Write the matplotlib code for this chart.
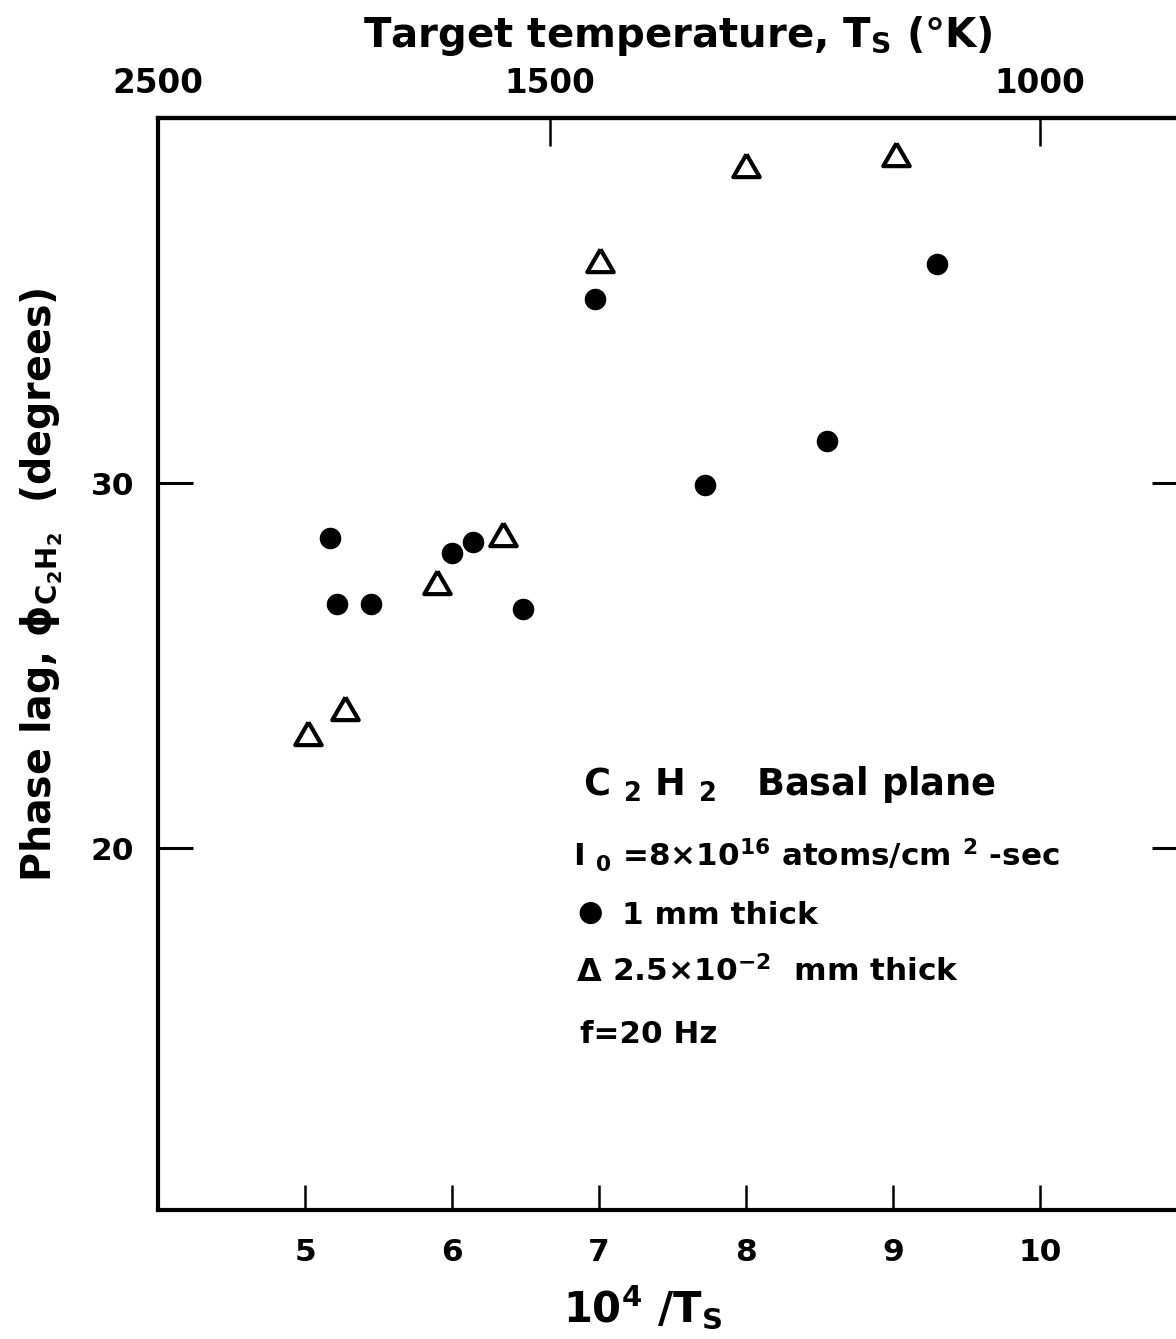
import matplotlib
matplotlib.use("Agg")
import matplotlib.pyplot as plt
import numpy as np

# ---- data ----
x_thick = [5.17, 5.22, 5.45, 6.00, 6.14, 6.48, 6.97, 7.72, 8.55, 9.30]
y_thick = [28.5, 26.7, 26.7, 28.1, 28.4, 26.55, 35.05, 29.95, 31.15, 36.0]
x_thin = [5.02, 5.27, 5.90, 6.35, 7.01, 8.00, 9.02]
y_thin = [23.1, 23.8, 27.25, 28.55, 36.05, 38.65, 38.95]
x_ticks = [5, 6, 7, 8, 9, 10]
y_ticks = [20, 30]
temp_ticks = [2500, 1500, 1000]

plt.rcParams['font.family'] = ['DejaVu Sans']
plt.rcParams['font.weight'] = 'bold'
plt.rcParams['mathtext.fontset'] = 'custom'
plt.rcParams['mathtext.rm'] = 'DejaVu Sans:bold'
plt.rcParams['mathtext.it'] = 'DejaVu Sans:italic:bold'
plt.rcParams['mathtext.bf'] = 'DejaVu Sans:bold'

W, H = 1176, 1339
fig = plt.figure(figsize=(W / 100, H / 100), dpi=100)
fig.patch.set_facecolor('white')

def fx(px):
    return px / W

def fy(py):
    return 1 - py / H

ax = fig.add_axes([fx(158), fy(1210), fx(1187) - fx(158), fy(118) - fy(1210)])
ax.set_xlim(4.0, 11.0)
ax.set_ylim(10.1, 40.0)

tri = [(0, 1.0), (-1.0, -0.73), (1.0, -0.73), (0, 1.0)]
ax.plot(x_thick, y_thick, linestyle='none', marker='o', markersize=14.5,
        markerfacecolor='black', markeredgecolor='black', clip_on=False)
ax.plot(x_thin, y_thin, linestyle='none', marker=tri, markersize=19,
        markerfacecolor='none', markeredgecolor='black', markeredgewidth=3.0,
        clip_on=False)

for s in ax.spines.values():
    s.set_linewidth(3)

ax.set_xticks(x_ticks)
ax.set_xticklabels([str(t) for t in x_ticks])
ax.set_yticks(y_ticks)
ax.set_yticklabels([str(t) for t in y_ticks])
ax.tick_params(axis='x', direction='in', length=18, width=1.8, pad=20,
               labelsize=22.5, bottom=True, top=False)
ax.tick_params(axis='y', direction='in', length=25, width=2.2, pad=17,
               labelsize=22.5, left=True, right=True)

sec = ax.secondary_xaxis('top', functions=(lambda v: 1e4 / np.asarray(v, float),
                                           lambda v: 1e4 / np.asarray(v, float)))
sec.set_xticks(temp_ticks)
sec.set_xticklabels([str(t) for t in temp_ticks])
sec.tick_params(direction='in', length=20, width=1.8, pad=13, labelsize=23.5)
sec.spines['top'].set_linewidth(3)

# titles / labels
fig.text(fx(678), fy(47), r'Target temperature, T$_{\mathrm{S}}$ (°K)', ha='center',
         va='baseline', fontsize=29)
fig.text(fx(643), fy(1322), r'10$^{4}$ /T$_{\mathrm{S}}$', ha='center', va='baseline',
         fontsize=30)
fig.text(fx(42), fy(585), r'Phase lag, ϕ$_{\mathrm{C_2H_2}}$  (degrees)', ha='center',
         va='center', rotation=90, fontsize=28.5)

# annotation block
fig.text(fx(583), fy(795), r'C $_{2}$ H $_{2}$   Basal plane', ha='left', va='baseline',
         fontsize=26.5)
fig.text(fx(573), fy(866), r'I $_{0}$ =8×10$^{16}$ atoms/cm $^{2}$ -sec', ha='left',
         va='baseline', fontsize=22.3)
fig.text(fx(590), fy(913), '●', ha='center', va='center', fontsize=21)
fig.text(fx(622), fy(924), '1 mm thick', ha='left', va='baseline', fontsize=22.5)
fig.text(fx(589), fy(981), 'Δ', ha='center', va='baseline', fontsize=23)
fig.text(fx(612), fy(981), r'2.5×10$^{-2}$  mm thick', ha='left', va='baseline',
         fontsize=22.5)
fig.text(fx(580), fy(1043), 'f=20 Hz', ha='left', va='baseline', fontsize=22.3)

fig.savefig('out.png', dpi=100, facecolor='white')
